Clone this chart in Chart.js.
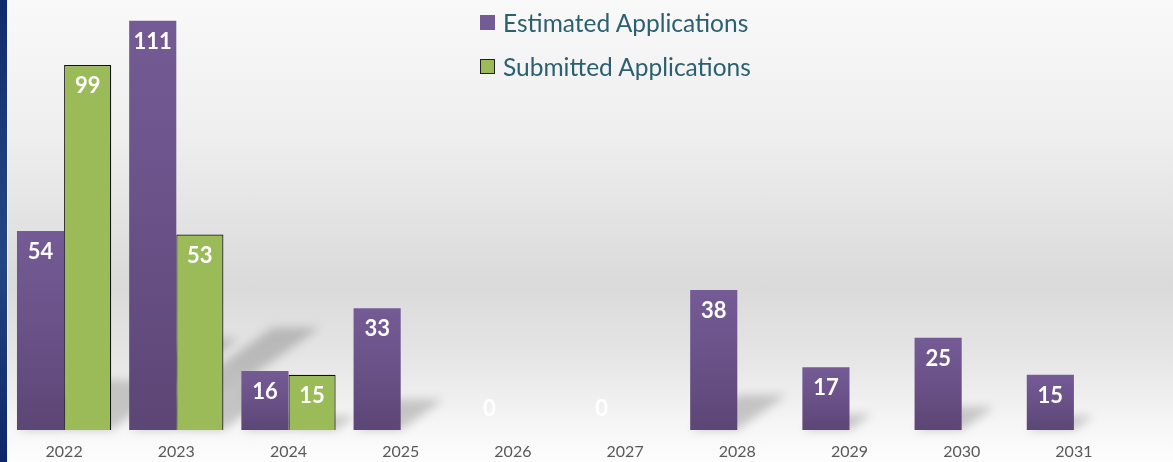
<!DOCTYPE html>
<html>
<head>
<meta charset="utf-8">
<script src="https://cdn.jsdelivr.net/npm/chart.js@4"></script>
<style>
  html,body{margin:0;padding:0;}
  body{width:1173px;height:462px;overflow:hidden;position:relative;
    background:linear-gradient(to bottom,#f9f9f9 0%,#eeeeee 30%,#dadada 62%,#e6e6e6 78%,#f6f6f6 92%,#fdfdfd 100%);}
  #strip{position:absolute;left:0;top:0;width:7px;height:462px;
    background:linear-gradient(to bottom,#112b6a 0%,#1c3c79 30%,#234782 55%,#1a3876 75%,#0f2766 100%);}
  #strip2{position:absolute;left:7px;top:0;width:1px;height:462px;background:#f4f4f6;}
  canvas{position:absolute;left:0;top:0;}
  #legend{position:absolute;left:480px;top:0px;font-family:Lato,"Noto Sans",sans-serif;font-size:24.5px;color:#2b6070;}
  .item{display:flex;align-items:center;height:44px;}
  .sw{width:15px;height:15px;margin-right:8px;box-sizing:border-box;}
</style>
</head>
<body>
<div id="strip"></div><div id="strip2"></div>
<canvas id="c" width="1173" height="462"></canvas>
<div id="legend"></div>
<script>
const categories = ["2022","2023","2024","2025","2026","2027","2028","2029","2030","2031"];
const estimated = [54,111,16,33,0,0,38,17,25,15];
const submitted = [99,53,15,null,null,null,null,null,null,null];
const seriesNames = ["Estimated Applications","Submitted Applications"];

const purpleTop = "#745b95", purpleBottom = "#5c4675";
const green = "#9bbb59";

function purpleGrad(ctx){
  const chart = ctx.chart;
  const y = chart.scales.y;
  if(!chart.chartArea || !y || ctx.raw == null) return purpleBottom;
  const top = y.getPixelForValue(ctx.raw), bot = y.getPixelForValue(0);
  if (!isFinite(top) || bot-top < 1) return purpleBottom;
  const g = chart.ctx.createLinearGradient(0, top, 0, bot);
  g.addColorStop(0, purpleTop);
  g.addColorStop(0.45, "#6b5289");
  g.addColorStop(1, purpleBottom);
  return g;
}

const shadowPlugin = {
  id:'shadows',
  beforeDatasetsDraw(chart){
    const c = chart.ctx;
    c.save();
    c.filter = 'blur(5px)';
    c.fillStyle = 'rgba(0,0,0,0.19)';
    chart.data.datasets.forEach((ds,i)=>{
      chart.getDatasetMeta(i).data.forEach((bar,j)=>{
        const v = ds.data[j];
        if(v == null || v === 0) return;
        const h = bar.base - bar.y;
        const sh = h*0.25, sx = sh*1.4;
        const l = bar.x - bar.width/2, r = bar.x + bar.width/2;
        c.beginPath();
        c.moveTo(l, bar.base);
        c.lineTo(r, bar.base);
        c.lineTo(r+sx, bar.base-sh);
        c.lineTo(l+sx, bar.base-sh);
        c.closePath();
        c.fill();
      });
    });
    c.restore();
  }
};

const labelPlugin = {
  id:'vals',
  afterDatasetsDraw(chart){
    const c = chart.ctx;
    c.save();
    c.font = 'bold 22px Lato, "Noto Sans", sans-serif';
    c.fillStyle = '#ffffff';
    c.textAlign = 'center';
    c.textBaseline = 'middle';
    chart.data.datasets.forEach((ds,i)=>{
      chart.getDatasetMeta(i).data.forEach((bar,j)=>{
        const v = ds.data[j];
        if(v == null) return;
        const yy = v === 0 ? bar.base - 21 : bar.y + 21;
        c.fillText(String(v), bar.x, yy);
      });
    });
    c.restore();
  }
};

new Chart(document.getElementById('c'), {
  type:'bar',
  data:{
    labels:categories,
    datasets:[
      {label:seriesNames[0], data:estimated, backgroundColor:purpleGrad, borderWidth:0},
      {label:seriesNames[1], data:submitted, backgroundColor:green, borderColor:'#111111', borderWidth:1.2}
    ]
  },
  options:{
    responsive:false,
    animation:false,
    layout:{padding:{left:8,right:43,top:6,bottom:2}},
    datasets:{bar:{categoryPercentage:0.84,barPercentage:1}},
    plugins:{legend:{display:false},tooltip:{enabled:false}},
    scales:{
      x:{grid:{display:false},border:{display:false},
         ticks:{color:'#595959',font:{family:'Lato, "Noto Sans", sans-serif',size:16},padding:4,maxRotation:0},
         afterFit(s){ s.height = 30; }},
      y:{display:false,min:0,max:115}
    }
  },
  plugins:[shadowPlugin,labelPlugin]
});

const leg = document.getElementById('legend');
[[seriesNames[0], purpleTop, 'none'],[seriesNames[1], green, '1px solid #222']].forEach(([t,col,b])=>{
  const d = document.createElement('div'); d.className='item';
  const s = document.createElement('span'); s.className='sw'; s.style.background=col; s.style.border=b;
  const tx = document.createElement('span'); tx.textContent=t;
  d.appendChild(s); d.appendChild(tx); leg.appendChild(d);
});
</script>
</body>
</html>
